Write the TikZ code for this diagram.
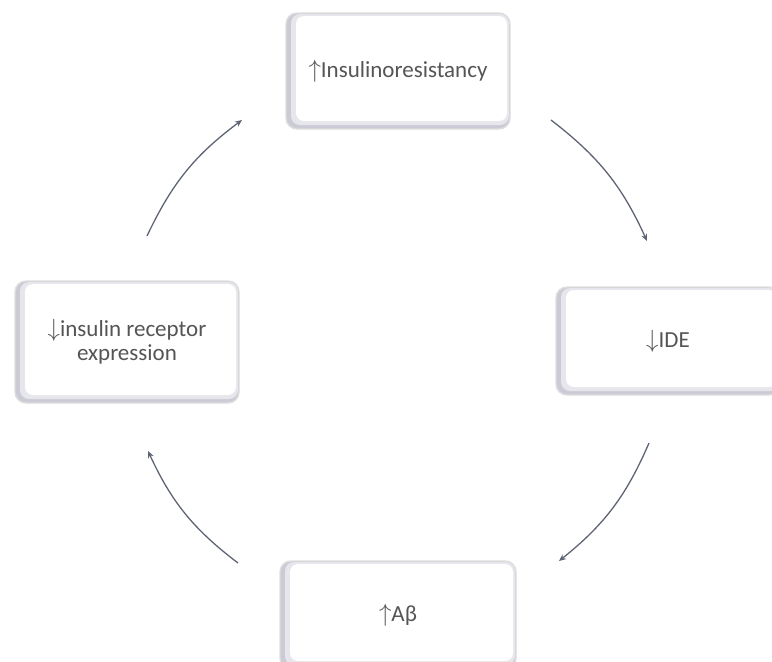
\documentclass[tikz,border=0pt]{standalone}
\usepackage{fontspec}
\setmainfont{Carlito}
\usetikzlibrary{arrows.meta}
\definecolor{txt}{HTML}{555555}
\definecolor{arrc}{HTML}{5E6473}
\definecolor{bevel}{HTML}{CBCBD5}
\definecolor{bevelmid}{HTML}{E6E6EC}
\definecolor{edge}{HTML}{DEDEDE}
\tikzset{
  box/.style={rounded corners=11pt, fill=bevel, draw=edge, line width=1.4pt,
    text=txt, font=\fontsize{23}{24}\selectfont, align=center, inner sep=0pt,
    path picture={
      \fill[bevelmid, rounded corners=9pt]
        ([xshift=5pt,yshift=4pt]path picture bounding box.south west) rectangle
        ([xshift=-1pt,yshift=-1pt]path picture bounding box.north east);
      \fill[white, rounded corners=8pt]
        ([xshift=10pt,yshift=8pt]path picture bounding box.south west) rectangle
        ([xshift=-3pt,yshift=-3pt]path picture bounding box.north east);
    }},
  arr/.style={draw=arrc, line width=1.3pt, -{Stealth[length=7pt,width=6pt]}}
}
\begin{document}
\begin{tikzpicture}[x=1pt,y=1pt]
\useasboundingbox (0,0) rectangle (772,-662);
\node[box, minimum width=224pt, minimum height=116pt] (top) at (398,-71) {$\uparrow$Insulinoresistancy};
\node[box, minimum width=224pt, minimum height=122pt] (left) at (127,-342) {$\downarrow$insulin receptor\\expression};
\node[box, minimum width=224pt, minimum height=108pt] (right) at (668,-341) {$\downarrow$IDE};
\node[box, minimum width=236pt, minimum height=108pt] (bottom) at (398,-615) {$\uparrow$Aβ};
\coordinate (a1s) at (551,-120);
\coordinate (a1e) at (647,-241);
\coordinate (a2s) at (649,-443);
\coordinate (a2e) at (559,-561);
\coordinate (a3s) at (238,-563);
\coordinate (a3e) at (148,-451);
\coordinate (a4s) at (147,-236);
\coordinate (a4e) at (242,-120);
\draw[arr] (a1s) to[bend left=14] (a1e);
\draw[arr] (a2s) to[bend left=14] (a2e);
\draw[arr] (a3s) to[bend left=14] (a3e);
\draw[arr] (a4s) to[bend left=14] (a4e);
\end{tikzpicture}
\end{document}
